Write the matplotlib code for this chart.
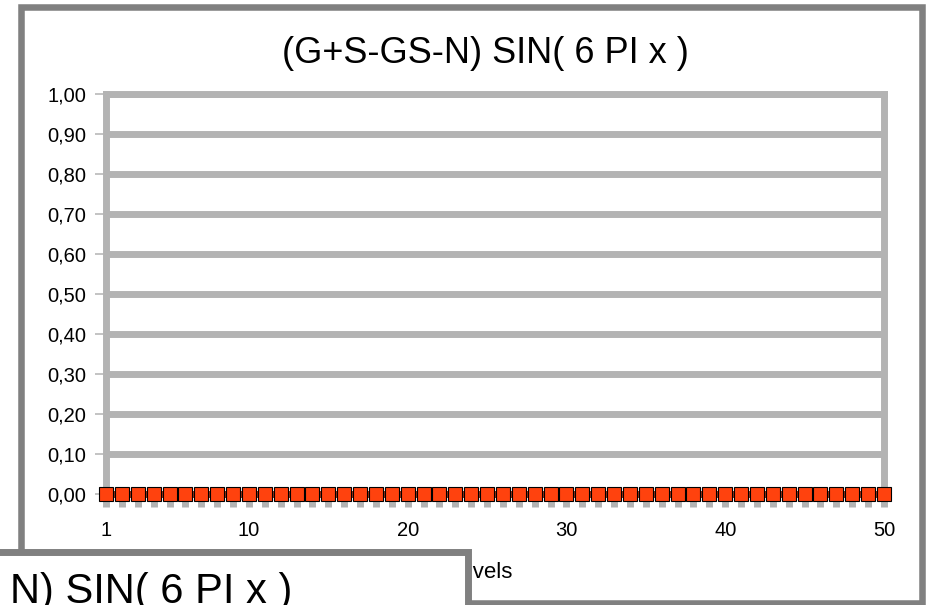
import matplotlib
matplotlib.use("Agg")
import matplotlib.pyplot as plt
from matplotlib.patches import Rectangle

plt.rcParams['font.family'] = ['Liberation Sans', 'DejaVu Sans']

# Datos del grafico
titulo = "(G+S-GS-N) SIN( 6 PI x )"
titulo_otro = "N) SIN( 6 PI x )"
etiqueta_x = "Levels"
niveles = list(range(1, 51))
valores = [0.00, 0.00, 0.00, 0.00, 0.00, 0.00, 0.00, 0.00, 0.00, 0.00,
           0.00, 0.00, 0.00, 0.00, 0.00, 0.00, 0.00, 0.00, 0.00, 0.00,
           0.00, 0.00, 0.00, 0.00, 0.00, 0.00, 0.00, 0.00, 0.00, 0.00,
           0.00, 0.00, 0.00, 0.00, 0.00, 0.00, 0.00, 0.00, 0.00, 0.00,
           0.00, 0.00, 0.00, 0.00, 0.00, 0.00, 0.00, 0.00, 0.00, 0.00]
yticks = [0.0, 0.1, 0.2, 0.3, 0.4, 0.5, 0.6, 0.7, 0.8, 0.9, 1.0]
ylabels = ["0,00", "0,10", "0,20", "0,30", "0,40", "0,50",
           "0,60", "0,70", "0,80", "0,90", "1,00"]
xlabels_con_texto = [1, 10, 20, 30, 40, 50]

gris_rejilla = "#b3b3b3"
gris_marco = "#808080"
rojo = "#ff420e"

W, H = 927, 605
fig = plt.figure(figsize=(W / 100, H / 100), dpi=100)
fig.patch.set_facecolor("white")

ax = fig.add_axes([106 / W, 1 - 493.5 / H, 778 / W, 400 / H])
ax.set_xlim(1, 50)
ax.set_ylim(0, 1)

# Serie
ax.plot(niveles, valores, color="#9a2f12", lw=5, zorder=3, clip_on=False)
ax.plot(niveles, valores, ls="none", marker="s", ms=10, mfc=rojo,
        mec="black", mew=0.8, zorder=4, clip_on=False)

# Rejilla y ejes
ax.set_yticks(yticks)
ax.set_yticklabels(ylabels)
ax.yaxis.grid(True, color=gris_rejilla, lw=5)
ax.set_axisbelow(True)
for s in ax.spines.values():
    s.set_color(gris_rejilla)
    s.set_linewidth(5)

ax.set_xticks(niveles)
ax.set_xticklabels([str(n) if n in xlabels_con_texto else "" for n in niveles])
ax.tick_params(axis="x", direction="out", length=9.7, width=5,
               color=gris_rejilla, pad=10, labelsize=14.5)
ax.tick_params(axis="y", direction="out", length=7.9, width=1.1,
               color=gris_rejilla, pad=6.5, labelsize=14.5)

# Titulo y etiqueta
fig.text(485 / W, 1 - 63 / H, titulo, ha="center", va="baseline",
         fontsize=26, zorder=2)
fig.text(480 / W, 1 - 578 / H, etiqueta_x, ha="center", va="baseline",
         fontsize=16, zorder=2)

# Marco exterior
fig.add_artist(Rectangle((21 / W, 1 - 602.5 / H), 900.5 / W, 595.5 / H,
                         transform=fig.transFigure, fill=False,
                         edgecolor=gris_marco, lw=4.7, zorder=3))

# Otro grafico encima (abajo a la izquierda)
fig.add_artist(Rectangle((-20 / W, -40 / H), 487.5 / W, (40 + 605 - 551.5) / H,
                         transform=fig.transFigure, facecolor="white",
                         edgecolor=gris_marco, lw=5, zorder=5))
fig.text(292 / W, 1 - 603 / H, titulo_otro, ha="right", va="baseline",
         fontsize=30, zorder=6)

fig.savefig("out.png", dpi=100)
